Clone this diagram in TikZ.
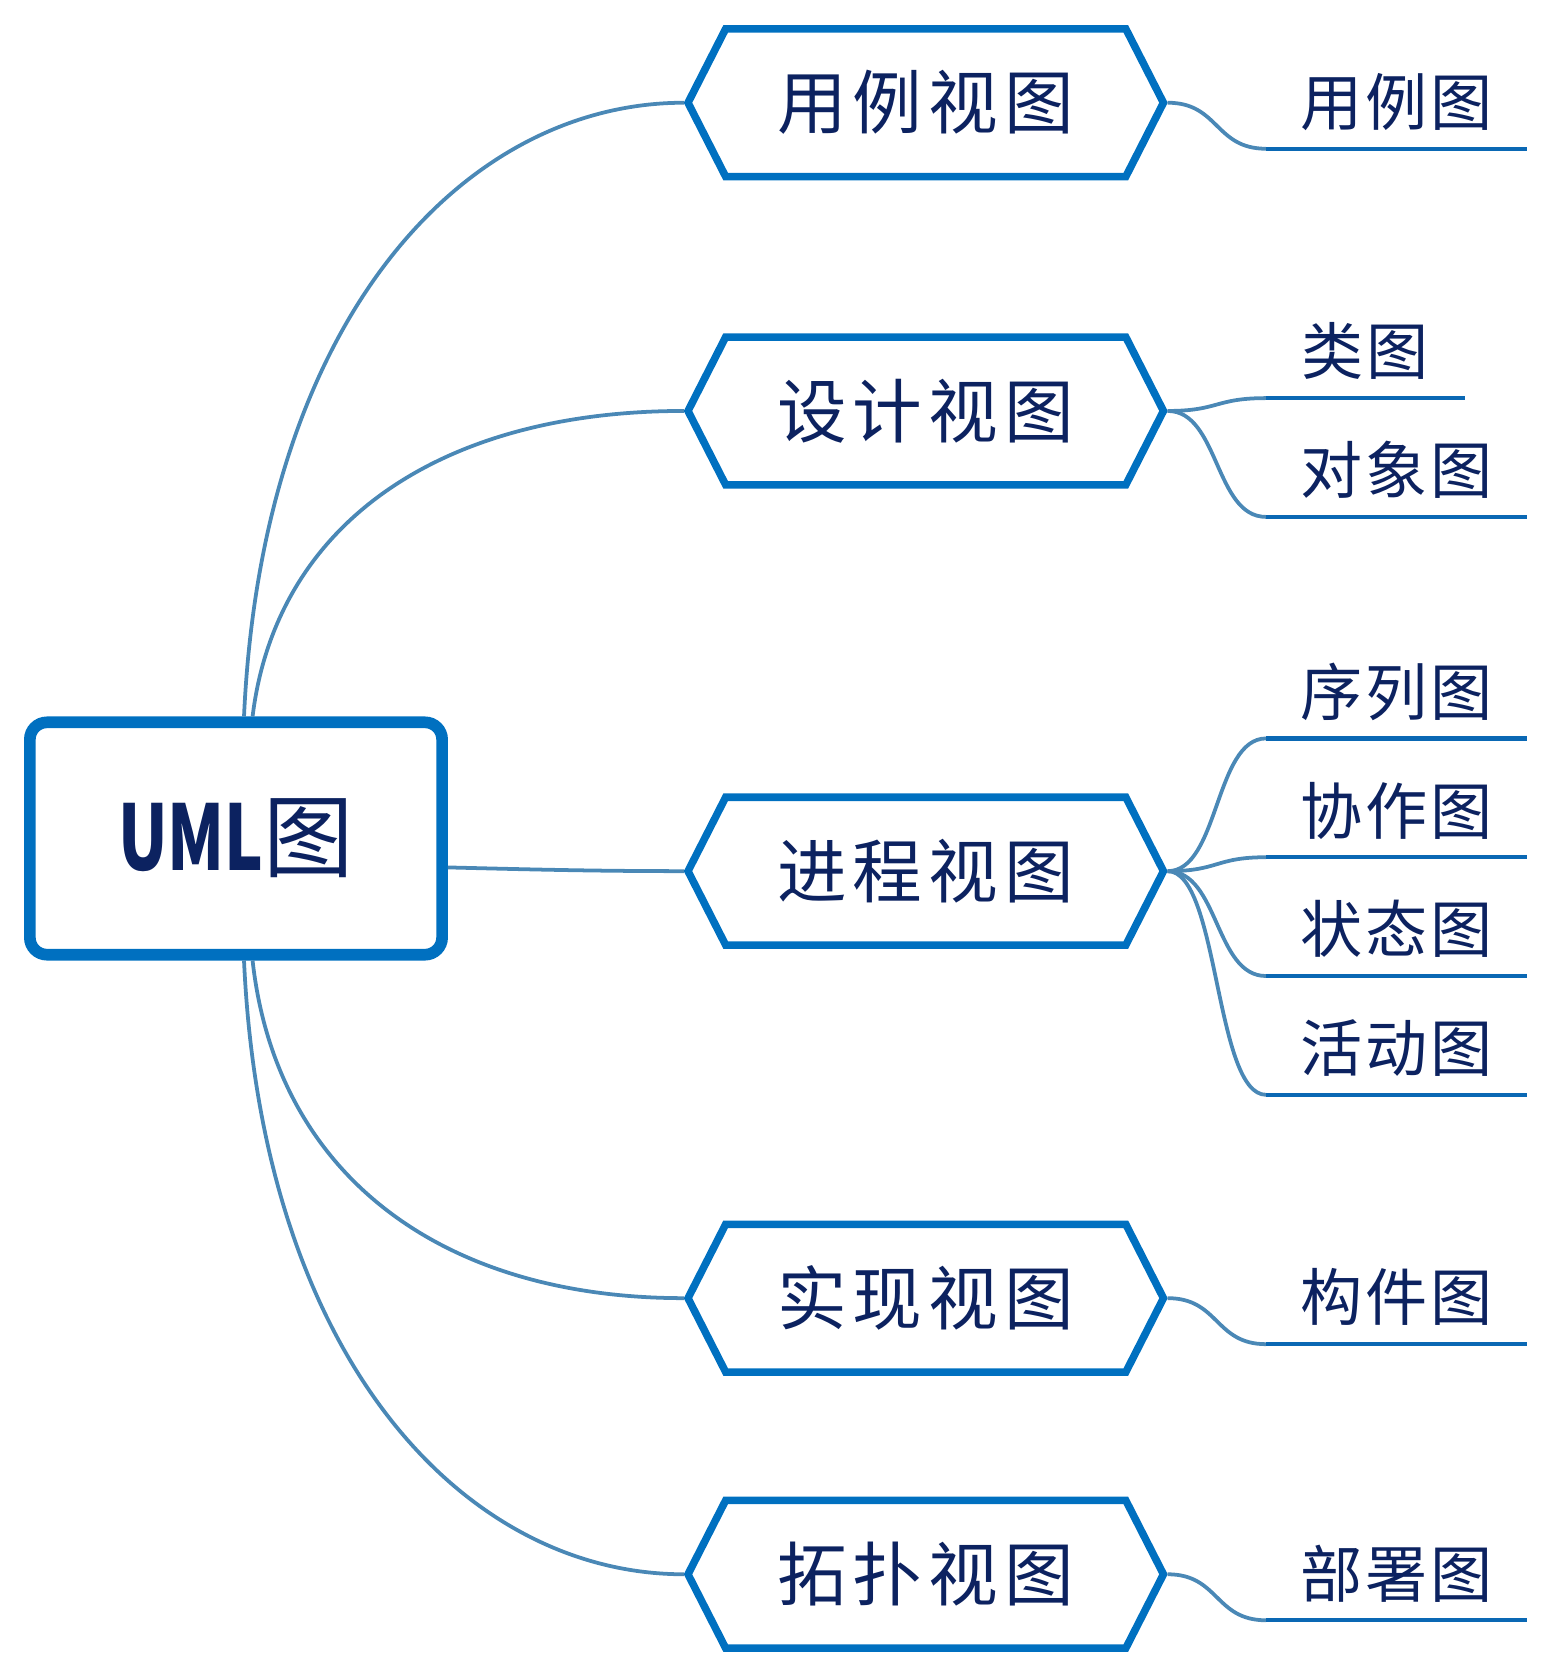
\documentclass[tikz,border=0pt]{standalone}
\usepackage{fontspec}
\usepackage{graphicx}
\usepackage{tikz}
\usetikzlibrary{shapes.symbols}
\newfontfamily\cjk{Noto Sans CJK SC}
\newfontfamily\cjkview[LetterSpace=9]{Noto Sans CJK SC}
\newfontfamily\cjkleaf[LetterSpace=5]{Noto Sans CJK SC}
\definecolor{navy}{HTML}{0C2260}
\definecolor{hexblue}{HTML}{0070C0}
\definecolor{linkblue}{HTML}{4A88B6}
\definecolor{ulblue}{HTML}{0A68B4}
\begin{document}
\begin{tikzpicture}[x=0.01cm,y=-0.01cm,
 root/.style={draw=hexblue,line width=3.1pt,rounded corners=0.16cm,fill=white,minimum width=3.85cm,minimum height=2.17cm,text=navy,font=\cjk\fontsize{24}{28}\selectfont},
 view/.style={signal,signal to=west and east,signal pointer angle=126,draw=hexblue,line width=2pt,minimum width=4.44cm,minimum height=1.38cm,inner sep=0pt,text=navy,font=\cjkview\fontsize{18.5}{22}\selectfont},
 leaf/.style={anchor=south west,minimum height=0.86cm,inner sep=0pt,text=navy,font=\cjkleaf\fontsize{16.5}{20}\selectfont},
 link/.style={draw=linkblue,line width=1pt},
 uline/.style={draw=ulblue,line width=1.15pt}]
 \useasboundingbox (0,0) rectangle (1447,1567);

 \node[root] (U) at (220.5,783.5) {\scalebox{0.72}[1]{\bfseries UML}图};

 \node[view] (V1) at (865,96) {用例视图};
 \node[view] (V2) at (865,384) {设计视图};
 \node[view] (V3) at (865,814) {进程视图};
 \node[view] (V4) at (865,1213) {实现视图};
 \node[view] (V5) at (865,1471) {拓扑视图};

 % root to views
 \draw[link] ([xshift=0.075cm]U.north) .. controls +(17,-375) and +(-203,0) .. (V1.west);
 \draw[link] ([xshift=0.155cm]U.north) .. controls +(22,-180) and +(-228,0) .. (V2.west);
 \draw[link] ([yshift=-0.27cm]U.east) .. controls +(80,2) and +(-80,0) .. (V3.west);
 \draw[link] ([xshift=0.155cm]U.south) .. controls +(22,199) and +(-228,0) .. (V4.west);
 \draw[link] ([xshift=0.075cm]U.south) .. controls +(17,375) and +(-203,0) .. (V5.west);

 \node[leaf,minimum width=2.42cm] (d1) at (1183,139) {用例图};
 \node[leaf,minimum width=1.84cm] (d2) at (1183,372) {类图};
 \node[leaf,minimum width=2.42cm] (d3) at (1183,483) {对象图};
 \node[leaf,minimum width=2.42cm] (d4) at (1183,690) {序列图};
 \node[leaf,minimum width=2.42cm] (d5) at (1183,801) {协作图};
 \node[leaf,minimum width=2.42cm] (d6) at (1183,912) {状态图};
 \node[leaf,minimum width=2.42cm] (d7) at (1183,1023) {活动图};
 \node[leaf,minimum width=2.42cm] (d8) at (1183,1256) {构件图};
 \node[leaf,minimum width=2.42cm] (d9) at (1183,1514) {部署图};

 % views to diagrams
 \draw[link] (V1.east) .. controls +(48,0) and +(-48,0) .. (d1.south west);
 \draw[link] (V2.east) .. controls +(48,0) and +(-48,0) .. (d2.south west);
 \draw[link] (V2.east) .. controls +(48,0) and +(-48,0) .. (d3.south west);
 \draw[link] (V3.east) .. controls +(48,0) and +(-48,0) .. (d4.south west);
 \draw[link] (V3.east) .. controls +(48,0) and +(-48,0) .. (d5.south west);
 \draw[link] (V3.east) .. controls +(48,0) and +(-48,0) .. (d6.south west);
 \draw[link] (V3.east) .. controls +(48,0) and +(-48,0) .. (d7.south west);
 \draw[link] (V4.east) .. controls +(48,0) and +(-48,0) .. (d8.south west);
 \draw[link] (V5.east) .. controls +(48,0) and +(-48,0) .. (d9.south west);

 \draw[uline] (d1.south west) -- (d1.south east);
 \draw[uline] (d2.south west) -- (d2.south east);
 \draw[uline] (d3.south west) -- (d3.south east);
 \draw[uline] (d4.south west) -- (d4.south east);
 \draw[uline] (d5.south west) -- (d5.south east);
 \draw[uline] (d6.south west) -- (d6.south east);
 \draw[uline] (d7.south west) -- (d7.south east);
 \draw[uline] (d8.south west) -- (d8.south east);
 \draw[uline] (d9.south west) -- (d9.south east);
\end{tikzpicture}
\end{document}
